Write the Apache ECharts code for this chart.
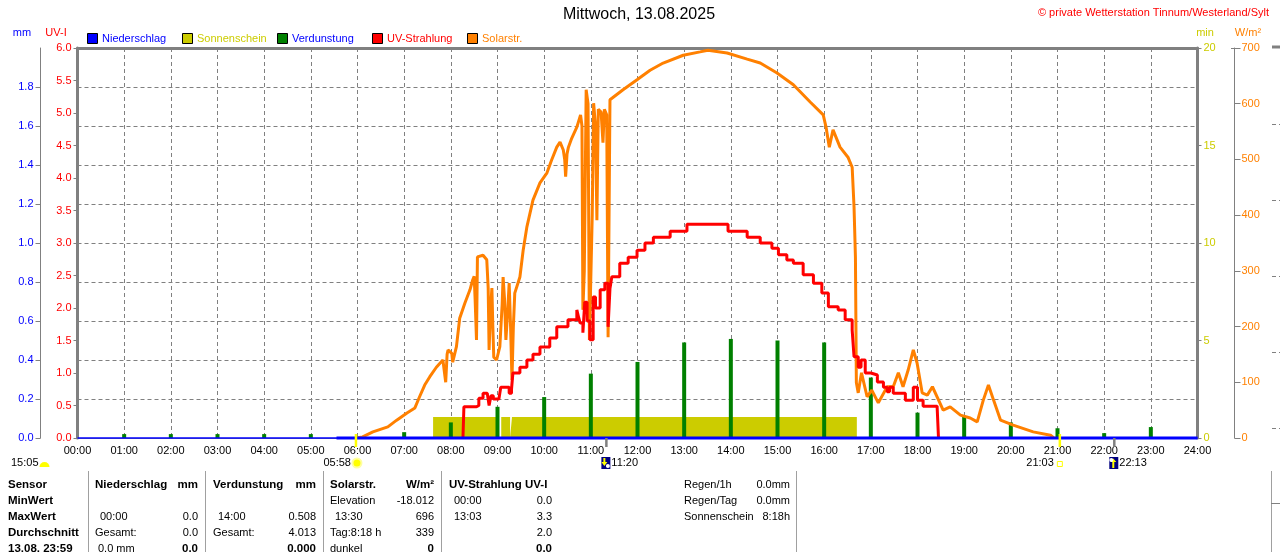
<!DOCTYPE html>
<html><head><meta charset="utf-8">
<script src="https://cdn.jsdelivr.net/npm/echarts@6/dist/echarts.min.js"></script>
<style>html,body{margin:0;padding:0;background:#fff}#c{width:1280px;height:552px}</style>
</head><body><div id="c"></div><script>
// ---------- data ----------
const hourLabels = ['00:00','01:00','02:00','03:00','04:00','05:00','06:00','07:00','08:00','09:00','10:00','11:00','12:00','13:00','14:00','15:00','16:00','17:00','18:00','19:00','20:00','21:00','22:00','23:00','24:00'];

const solarTimes = [5.97,6.11,6.33,6.65,6.84,7.06,7.23,7.33,7.44,7.55,7.69,7.83,7.87,7.89,7.92,7.94,8.02,8.04,8.08,8.12,8.19,8.30,8.41,8.47,8.50,8.52,8.55,8.57,8.69,8.77,8.80,8.82,8.85,8.88,8.90,8.92,8.98,9.05,9.10,9.12,9.15,9.18,9.22,9.25,9.28,9.31,9.34,9.37,9.48,9.55,9.63,9.76,9.91,10.06,10.16,10.27,10.34,10.41,10.44,10.46,10.49,10.52,10.59,10.70,10.78,10.81,10.83,10.86,10.90,10.94,10.97,11.03,11.06,11.10,11.13,11.16,11.22,11.26,11.29,11.34,11.37,11.41,11.45,11.69,11.99,12.27,12.55,12.98,13.34,13.51,13.92,14.35,14.63,14.99,15.34,15.70,15.98,16.04,16.11,16.19,16.34,16.51,16.60,16.64,16.67,16.69,16.73,16.80,16.92,17.02,17.16,17.35,17.48,17.59,17.69,17.80,17.91,17.99,18.10,18.21,18.32,18.42,18.55,18.70,18.92,19.13,19.28,19.41,19.52,19.63,19.78,20.05,20.48,20.85,20.92];
const solarValues = [0,2,11,20,32,45,54,74,95,110,127,140,138,100,150,158,152,136,150,164,215,242,266,284,290,250,176,325,328,320,270,158,230,269,200,145,140,164,240,289,250,176,230,278,200,104,200,260,289,337,379,427,458,476,499,522,531,517,500,469,510,522,538,558,580,560,230,300,625,600,176,400,601,560,391,590,585,530,590,580,181,607,610,625,643,660,673,687,693,696,691,680,673,655,634,603,580,558,522,553,522,504,486,415,325,99,81,117,74,86,63,92,92,117,92,122,158,135,81,77,92,74,50,56,41,36,29,68,95,68,32,23,11,5,0];

const uvTimes = [8.26,8.28,8.55,8.60,8.69,8.78,8.82,8.86,8.91,9.03,9.07,9.20,9.25,9.30,9.33,9.48,9.63,9.76,9.91,10.12,10.27,10.45,10.51,10.70,10.74,10.77,10.83,10.87,10.92,10.98,11.05,11.10,11.20,11.30,11.37,11.41,11.45,11.62,11.80,11.99,12.16,12.34,12.70,13.06,13.94,13.98,14.35,14.63,14.88,15.02,15.20,15.34,15.55,15.77,15.95,16.09,16.30,16.45,16.60,16.64,16.73,16.79,16.88,17.00,17.14,17.27,17.35,17.40,17.48,17.62,17.74,17.91,18.00,18.12,18.42,18.45];
const uvValues = [0,0.48,0.50,0.61,0.69,0.69,0.50,0.65,0.60,0.61,0.78,0.78,0.69,0.75,1.00,1.09,1.20,1.29,1.40,1.54,1.71,1.71,1.82,1.97,1.85,1.77,1.62,2.09,1.80,1.51,2.17,2.00,2.28,2.38,1.71,2.30,2.48,2.69,2.78,2.89,3.00,3.09,3.18,3.29,3.18,3.18,3.09,3.00,2.92,2.82,2.74,2.69,2.51,2.38,2.23,2.02,1.97,1.82,1.66,1.25,1.09,1.20,1.00,0.97,0.86,0.78,0.71,0.78,0.69,0.69,0.58,0.78,0.58,0.49,0.49,0];

const evapHours  = [1,2,3,4,5,7,8,9,10,11,12,13,14,15,16,17,18,19,20,21,22,23];
const evapValues = [0.02,0.02,0.02,0.02,0.02,0.03,0.08,0.16,0.21,0.33,0.39,0.49,0.508,0.50,0.49,0.31,0.13,0.11,0.08,0.05,0.025,0.056];

const sunStart = [7.62, 9.08, 9.31];
const sunEnd   = [9.02, 9.27, 16.70];
const sunMinutes = [1.08, 1.08, 1.08];

const rainTimes = [0, 5.55, 24];
const rainValues = [0, 0, 0];

const mmTicks = [0,0.2,0.4,0.6,0.8,1.0,1.2,1.4,1.6,1.8];

const eventTimes  = [5.967, 11.333, 21.05, 22.217];
const eventLabels = ['05:58', '11:20', '21:03', '22:13'];
const eventKinds  = ['sunrise', 'moonset', 'sunset', 'moonrise'];
const moonPhaseLabel = '15:05';

const tableHeader = ['Sensor','Niederschlag','mm','Verdunstung','mm','Solarstr.','W/m²','UV-Strahlung UV-I'];
const rowLabels = ['MinWert','MaxWert','Durchschnitt','13.08. 23:59'];
const niederschlagRows = [['',''],['00:00','0.0'],['Gesamt:','0.0'],['0.0 mm','0.0']];
const verdunstungRows  = [['',''],['14:00','0.508'],['Gesamt:','4.013'],['','0.000']];
const solarRows        = [['Elevation','-18.012'],['13:30','696'],['Tag:8:18 h','339'],['dunkel','0']];
const uvRows           = [['00:00','0.0'],['13:03','3.3'],['','2.0'],['','0.0']];
const summaryLabels = ['Regen/1h','Regen/Tag','Sonnenschein'];
const summaryValues = ['0.0mm','0.0mm','8:18h'];

// ---------- chart ----------
const FF = '"Liberation Sans", Arial, sans-serif';
const GREY = '#808080';
const dashed = {show:true, lineStyle:{color:GREY, width:1, type:[4,3]}};

const pairs = (xs, ys) => xs.map((x,i)=>[x, ys[i]]);
const sunData = [];
sunStart.forEach((s,i)=>{ sunData.push([s,0],[s,sunMinutes[i]],[sunEnd[i],sunMinutes[i]],[sunEnd[i],0]); });

const chart = echarts.init(document.getElementById('c'), null, {renderer:'canvas'});
const option = {
  animation:false,
  backgroundColor:'#fff',
  grid:{left:77.5, right:82.5, top:48, height:390, containLabel:false},
  xAxis:[
    {type:'value', min:0, max:24, interval:1, position:'bottom',
     axisLine:{show:true, onZero:false, lineStyle:{color:GREY, width:1}},
     axisTick:{show:false},
     axisLabel:{formatter:v=>hourLabels[Math.round(v)], color:'#000', fontSize:11, fontFamily:FF, margin:7},
     splitLine:dashed},
    {type:'value', min:0, max:24, interval:1, position:'top',
     axisLine:{show:true, onZero:false, lineStyle:{color:GREY, width:3}},
     axisTick:{show:false}, axisLabel:{show:false}, splitLine:{show:false}}
  ],
  yAxis:[
    {type:'value', min:0, max:2, interval:0.2, position:'left', offset:37,
     axisLine:{show:true, onZero:false, lineStyle:{color:GREY, width:1}},
     axisTick:{show:true, length:5, customValues:mmTicks, lineStyle:{color:GREY}},
     axisLabel:{color:'#0000ff', fontSize:11, fontFamily:FF, margin:7, customValues:mmTicks, formatter:v=>v.toFixed(1)},
     splitLine:dashed},
    {type:'value', min:0, max:6, interval:0.5, position:'left', offset:0,
     axisLine:{show:true, onZero:false, lineStyle:{color:GREY, width:3}},
     axisTick:{show:true, length:4, lineStyle:{color:GREY}},
     axisLabel:{color:'#ff0000', fontSize:11, fontFamily:FF, margin:6, formatter:v=>v.toFixed(1)},
     splitLine:{show:false}},
    {type:'value', min:0, max:20, interval:5, position:'right', offset:0,
     axisLine:{show:true, onZero:false, lineStyle:{color:GREY, width:3}},
     axisTick:{show:true, length:4, lineStyle:{color:GREY}},
     axisLabel:{color:'#cccc00', fontSize:11, fontFamily:FF, margin:6},
     splitLine:{show:false}},
    {type:'value', min:0, max:700, interval:100, position:'right', offset:37,
     axisLine:{show:true, onZero:false, lineStyle:{color:GREY, width:1}},
     axisTick:{show:true, length:6, lineStyle:{color:GREY}},
     axisLabel:{color:'#ff8000', fontSize:11, fontFamily:FF, margin:7},
     splitLine:{show:false}}
  ],
  series:[
    {name:'Sonnenschein', type:'line', xAxisIndex:0, yAxisIndex:2, data:sunData, symbol:'none',
     lineStyle:{width:0, opacity:0}, areaStyle:{color:'#cccc00', opacity:1}, z:1, silent:true},
    {name:'Verdunstung', type:'bar', xAxisIndex:0, yAxisIndex:0, data:pairs(evapHours, evapValues),
     barWidth:4, itemStyle:{color:'#008000'}, z:2, silent:true},
    {name:'Solarstr.', type:'line', xAxisIndex:0, yAxisIndex:3, data:pairs(solarTimes, solarValues), symbol:'none',
     lineStyle:{color:'#ff8000', width:3}, z:3, silent:true},
    {name:'UV-Strahlung', type:'line', xAxisIndex:0, yAxisIndex:1, data:pairs(uvTimes, uvValues), symbol:'none', step:'end',
     lineStyle:{color:'#ff0000', width:3}, z:4, silent:true},
    {name:'Niederschlag', type:'line', xAxisIndex:0, yAxisIndex:0, data:[[rainTimes[0],rainValues[0]],[rainTimes[2],rainValues[2]]], symbol:'none', clip:false,
     lineStyle:{color:'#0000ff', width:1.5}, z:5, silent:true},
    {name:'Niederschlag', type:'line', xAxisIndex:0, yAxisIndex:0, data:[[rainTimes[1],rainValues[1]],[rainTimes[2],rainValues[2]]], symbol:'none', clip:false,
     lineStyle:{color:'#0000ff', width:3}, z:6, silent:true}
  ]
};
chart.setOption(option);

// ---------- graphics ----------
const G = [];
function txt(x, y, text, o) {
  o = o || {};
  G.push({type:'text', x:x, y:y, silent:true, z:100,
    style:{text:text, fill:o.color||'#000', font:(o.bold?'bold ':'')+(o.size||11)+'px '+FF,
           align:o.align||'left', verticalAlign:'middle'}});
}
function line(x1,y1,x2,y2,color,w){
  G.push({type:'line', silent:true, z:100, shape:{x1,y1,x2,y2}, style:{stroke:color, lineWidth:w||1}});
}
function rect(x,y,w,h,fill,stroke){
  G.push({type:'rect', silent:true, z:100, shape:{x,y,width:w,height:h}, style:{fill:fill, stroke:stroke||null, lineWidth:1}});
}

// title & copyright
txt(639, 15, 'Mittwoch, 13.08.2025', {size:16, align:'center'});
txt(1269, 12.5, '© private Wetterstation Tinnum/Westerland/Sylt', {color:'#ff0000', align:'right'});

// axis names
txt(22, 33, 'mm', {color:'#0000ff', align:'center'});
txt(56, 33, 'UV-I', {color:'#ff0000', align:'center'});
txt(1205, 33, 'min', {color:'#cccc00', align:'center'});
txt(1248, 33, 'W/m²', {color:'#ff8000', align:'center'});

// legend
const legendItems = [['Niederschlag','#0000ff','#0000ff',87],['Sonnenschein','#cccc00','#cccc00',182],['Verdunstung','#008000','#0000ff',277],['UV-Strahlung','#ff0000','#ff0000',372],['Solarstr.','#ff8000','#ff8000',467]];
legendItems.forEach(it=>{ rect(it[3]+0.5, 33.5, 10, 10, it[1], '#000'); txt(it[3]+15, 38.5, it[0], {color:it[2]}); });

// top "T" of the W/m² axis
line(1231, 48.5, 1238, 48.5, GREY, 1);

// event markers below the time axis
const toX = t => chart.convertToPixel({xAxisIndex:0}, t);
eventTimes.forEach((t,i)=>{
  const x = toX(t), k = eventKinds[i];
  if (k==='sunrise' || k==='sunset') line(x, 434, x, 447, '#ffff00', 2.5);
  else line(x, 438, x, 447, GREY, 2.5);
  if (k==='sunrise') {
    G.push({type:'circle', silent:true, z:100, shape:{cx:x+1, cy:463, r:4.5}, style:{fill:'#ffff00', stroke:'#ffffa0', lineWidth:2}});
    txt(x-5, 463, eventLabels[i], {align:'right'});
  } else if (k==='sunset') {
    rect(x-2.5, 461.5, 5, 5, null, '#ffff00');
    txt(x-6, 463, eventLabels[i], {align:'right'});
  } else {
    rect(x-5, 457, 9, 12, '#000080');
    const up = k==='moonrise';
    G.push({type:'polygon', silent:true, z:101, shape:{points: up ? [[x-2,468],[x-2,462],[x-4,462],[x-1,458.5],[x+2,462],[x,462],[x,468]] : [[x-3,458],[x-3,462],[x-5,462],[x-2,466],[x+1,462],[x-1,462],[x-1,458]]}, style:{fill:'#ffff00'}});
    G.push({type:'circle', silent:true, z:101, shape:{cx: up ? x-3 : x+1.5, cy: up ? 460 : 466, r:2}, style:{fill:'#ffffff'}});
    txt(x+5, 463, eventLabels[i]);
  }
});
// moon phase marker
txt(11, 463, moonPhaseLabel);
G.push({type:'sector', silent:true, z:100, shape:{cx:44.5, cy:467, r0:0, r:5, startAngle:Math.PI, endAngle:2*Math.PI}, style:{fill:'#ffff00'}});

// table separators
[88.5, 205.5, 323.5, 441.5, 796.5].forEach(x=>line(x, 471, x, 552, '#a0a0a0', 1));
// neighbouring panel edges at the right
line(1271.5, 471, 1271.5, 552, '#a0a0a0', 1);
line(1271, 503.5, 1280, 503.5, GREY, 1);
line(1272, 47, 1280, 47, GREY, 3);
[124, 200, 276, 352, 428].forEach(y=>G.push({type:'line', silent:true, z:100, shape:{x1:1272,y1:y+0.5,x2:1280,y2:y+0.5}, style:{stroke:GREY, lineWidth:1, lineDash:[4,3]}}));

// table
const rowY = [485, 501, 517, 533, 549];
const hdrX = [8, 95, 198, 213, 316, 330, 434, 449];
const hdrAlign = ['left','left','right','left','right','left','right','left'];
tableHeader.forEach((h,i)=>txt(hdrX[i], rowY[0], h, {bold:true, size:11.5, align:hdrAlign[i]}));
rowLabels.forEach((l,i)=>txt(8, rowY[i+1], l, {bold:true, size:11.5}));
const blocks = [[niederschlagRows, 95, 198], [verdunstungRows, 213, 316], [solarRows, 330, 434], [uvRows, 449, 552]];
blocks.forEach(b=>{
  b[0].forEach((r,i)=>{
    const isTime = /^\d\d:\d\d$/.test(r[0]);
    const last = i === 3;
    if (r[0]) txt(b[1] + (isTime ? 5 : (r[0]==='0.0 mm'?3:0)), rowY[i+1], r[0]);
    if (r[1]) txt(b[2], rowY[i+1], r[1], {align:'right', bold:last, size:last?11.5:11});
  });
});
summaryLabels.forEach((l,i)=>{ txt(684, rowY[i], l); txt(790, rowY[i], summaryValues[i], {align:'right'}); });

chart.setOption({graphic: G});
</script></body></html>
